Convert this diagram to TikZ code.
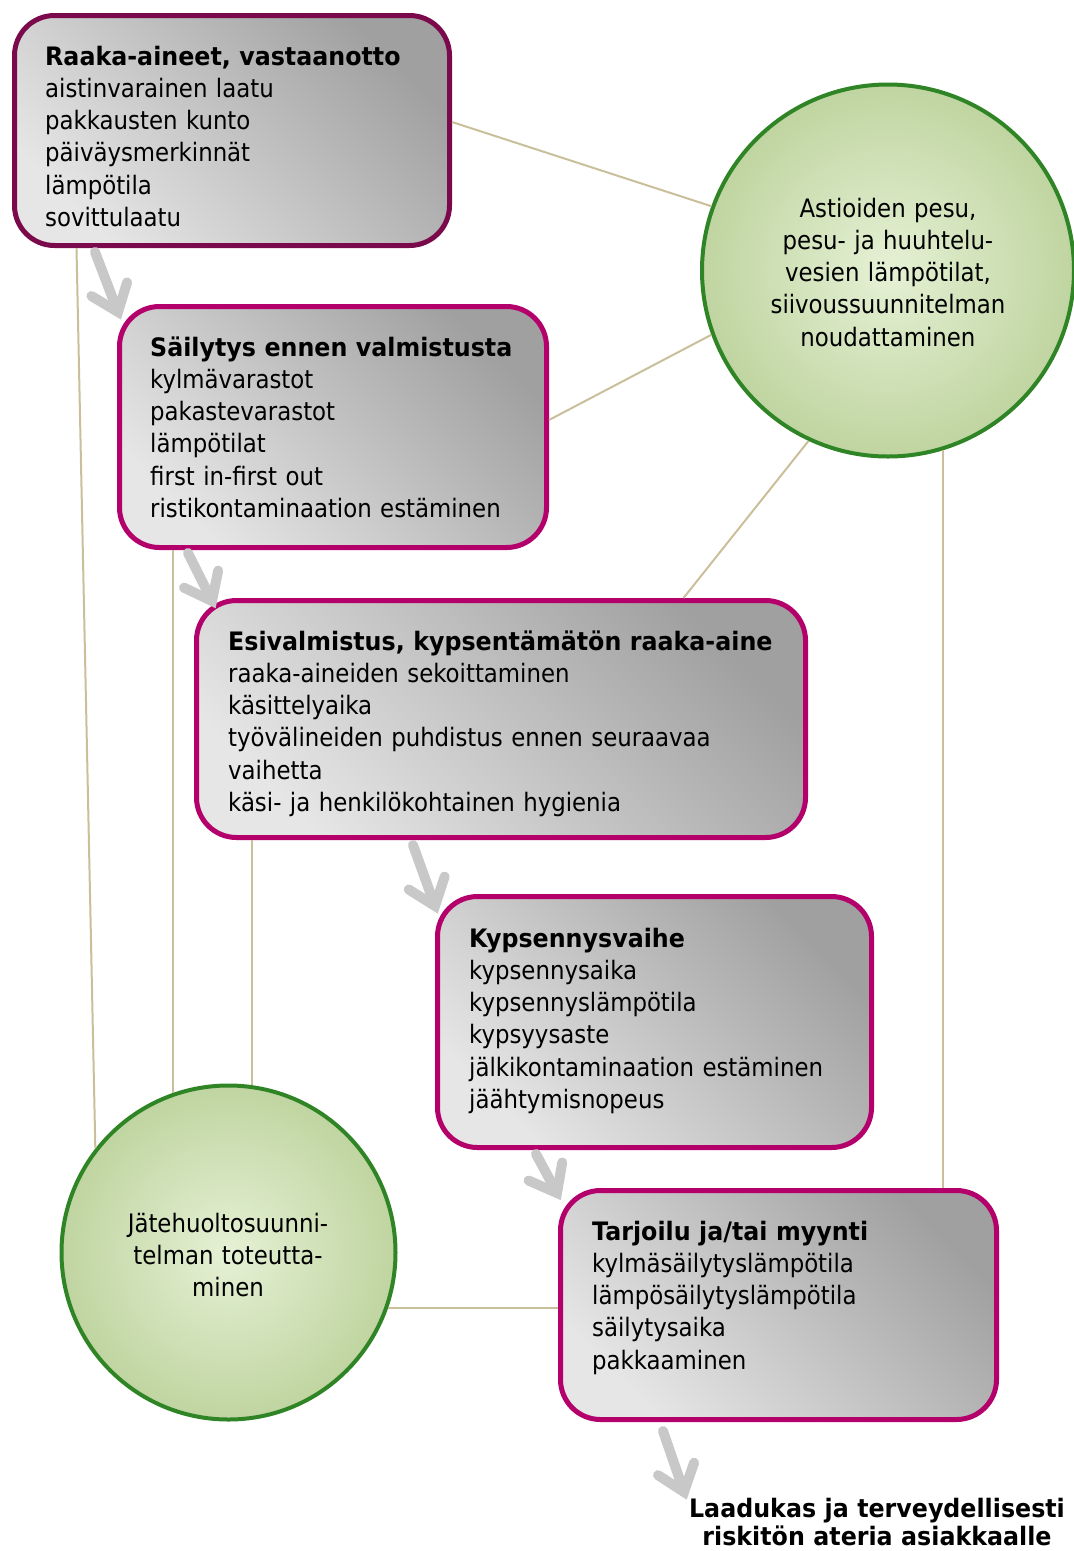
\documentclass[tikz,border=0pt]{standalone}
\usepackage{fontspec}
\setmainfont{DejaVu Sans Condensed}[BoldFont={DejaVu Sans Bold}, BoldFeatures={FakeStretch=0.935}]
\usetikzlibrary{calc}
\definecolor{plum}{HTML}{7A0A4C}
\definecolor{magen}{HTML}{B3006B}
\definecolor{boxdark}{HTML}{A0A0A0}
\definecolor{boxlight}{HTML}{E6E6E6}
\definecolor{linkc}{HTML}{C9BF9B}
\definecolor{arrowc}{HTML}{C8C8C8}
\definecolor{gin}{HTML}{E5F1D5}
\definecolor{gout}{HTML}{A3BF78}
\definecolor{gsoft}{HTML}{78A955}
\definecolor{grim}{HTML}{2F8526}
\pgfdeclareradialshading{greenball}{\pgfpoint{0bp}{0bp}}{color(0bp)=(gin); color(44bp)=(gout); color(46.5bp)=(gout); color(48.5bp)=(gsoft); color(50bp)=(grim)}
\newcommand\boxfont{\fontsize{25.4pt}{32.3pt}\selectfont}
\tikzset{
  stepbox/.style={draw=#1, line width=5pt, rounded corners=40pt,
    top color=boxdark, bottom color=boxlight, shading angle=-45},
  ball/.style={circle, draw=grim, line width=4pt, shading=greenball, inner sep=0pt},
  txt/.style={align=left, text width=640pt, inner sep=0pt, font=\boxfont, anchor=base west},
  ctxt/.style={align=center, text width=340pt, inner sep=0pt, font=\boxfont, anchor=base},
  link/.style={draw=linkc, line width=2pt},
  flow/.style={draw=arrowc, line width=10pt, line cap=round, line join=miter},
}
\newcommand\grayarrow[2]{%
  \draw[flow] (#1) -- ($(#2)!7pt!(#1)$);
  \draw[flow] ($(#2)!31pt!38:(#1)$) -- (#2) -- ($(#2)!31pt!-38:(#1)$);}
\begin{document}
\begin{tikzpicture}[x=1pt,y=-1pt]
\useasboundingbox (0,0) rectangle (1074,1551);

% boxes
\node[stepbox=plum, minimum width=435pt, minimum height=230pt] (b1) at (232,130.5) {};
\node[stepbox=magen, minimum width=427pt, minimum height=241pt] (b2) at (333,427) {};
\node[stepbox=magen, minimum width=609pt, minimum height=237pt] (b3) at (501,719) {};
\node[stepbox=magen, minimum width=434pt, minimum height=251pt] (b4) at (654.5,1022) {};
\node[stepbox=magen, minimum width=436pt, minimum height=229pt] (b5) at (778.5,1305) {};

% circles
\node[ball, minimum size=372pt] (c1) at (888,270.5) {};
\node[ball, minimum size=334pt] (c2) at (228.5,1252.5) {};

% connectors
\draw[link] ($(b1.east)+(0,-8.5)$) -- (c1.160);
\draw[link] ($(b2.east)+(0,-7)$) -- (c1.200);
\draw[link] ($(b3.north west)+(489.5,0)$) -- (c1.245);
\draw[link] (c1.287) -- (c1.287 |- b5.north);
\draw[link] ($(b1.south west)+(64.5,0)$) -- (c2.142);
\draw[link] (c2.109 |- b2.south) -- (c2.109);
\draw[link] (c2.82 |- b3.south) -- (c2.82);
\draw[link] (c2.-19) -- (c2.-19 -| b5.west);

% flow arrows
\coordinate (a1s) at (95,252);  \coordinate (a1e) at (118,312);
\coordinate (a2s) at (188,553); \coordinate (a2e) at (212,601);
\coordinate (a3s) at (413,845); \coordinate (a3e) at (435,906);
\coordinate (a4s) at (536,1154);\coordinate (a4e) at (557,1193);
\coordinate (a5s) at (663,1431);\coordinate (a5e) at (684,1492);
\grayarrow{a1s}{a1e}
\grayarrow{a2s}{a2e}
\grayarrow{a3s}{a3e}
\grayarrow{a4s}{a4e}
\grayarrow{a5s}{a5e}

% texts
\node[txt] (t1) at (45,65) {\textbf{Raaka-aineet, vastaanotto}\\aistinvarainen laatu\\pakkausten kunto\\päiväysmerkinnät\\lämpötila\\sovittulaatu};
\node[txt] (t2) at (150,356) {\textbf{Säilytys ennen valmistusta}\\kylmävarastot\\pakastevarastot\\lämpötilat\\first in-first out\\ristikontaminaation estäminen};
\node[txt] (t3) at (228,650) {\textbf{Esivalmistus, kypsentämätön raaka-aine}\\raaka-aineiden sekoittaminen\\käsittelyaika\\työvälineiden puhdistus ennen seuraavaa\\vaihetta\\käsi- ja henkilökohtainen hygienia};
\node[txt] (t4) at (469,947) {\textbf{Kypsennysvaihe}\\kypsennysaika\\kypsennyslämpötila\\kypsyysaste\\jälkikontaminaation estäminen\\jäähtymisnopeus};
\node[txt] (t5) at (592,1240) {\textbf{Tarjoilu ja/tai myynti}\\kylmäsäilytyslämpötila\\lämpösäilytyslämpötila\\säilytysaika\\pakkaaminen};
\node[ctxt] (t6) at (888,217) {Astioiden pesu,\\pesu- ja huuhtelu-\\vesien lämpötilat,\\siivoussuunnitelman\\noudattaminen};
\node[ctxt] (t7) at (228,1232) {Jätehuoltosuunni-\\telman toteutta-\\minen};
\node[ctxt, text width=440pt, font=\fontsize{25.4pt}{28pt}\selectfont\bfseries] (t8) at (877,1517) {Laadukas ja terveydellisesti\\riskitön ateria asiakkaalle};
\end{tikzpicture}
\end{document}
